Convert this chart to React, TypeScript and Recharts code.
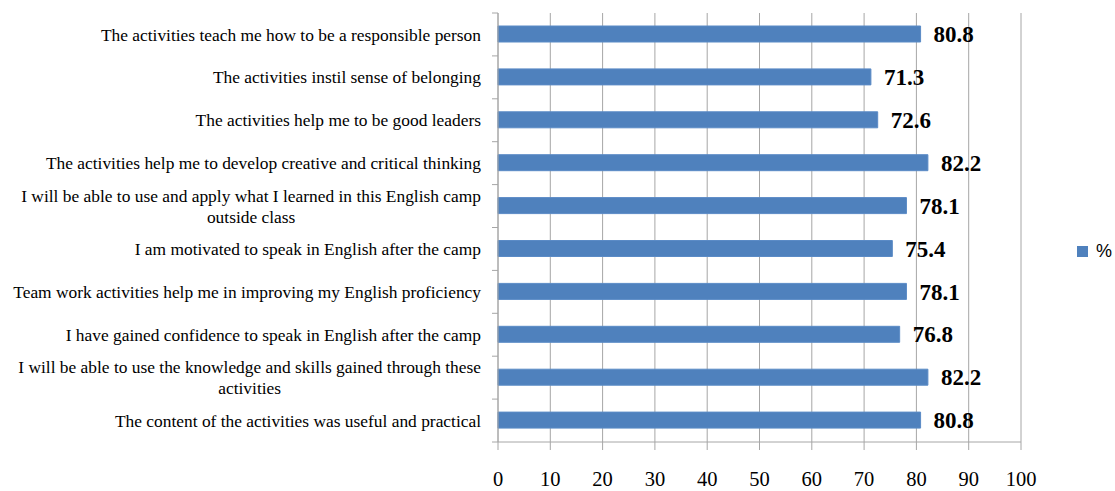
import { BarChart, Bar, XAxis, YAxis, CartesianGrid, LabelList, Legend } from 'recharts'

// statements, top to bottom as in the figure ("\n" marks the manual line break)
const statements = [
  'The activities teach me how to be a responsible person',
  'The activities instil sense of belonging',
  'The activities help me to be good leaders',
  'The activities help me to develop creative and critical thinking',
  'I will be able to use and apply what I learned in this English camp\noutside class',
  'I am motivated to speak in English after the camp',
  'Team work activities help me in improving my English proficiency',
  'I have gained confidence to speak in English after the camp',
  'I will be able to use the knowledge and skills gained through these\nactivities',
  'The content of the activities was useful and practical',
]
const percents = [80.8, 71.3, 72.6, 82.2, 78.1, 75.4, 78.1, 76.8, 82.2, 80.8]
const xTicks = [0, 10, 20, 30, 40, 50, 60, 70, 80, 90, 100]

const data = statements.map((s, i) => ({ statement: s, pct: percents[i] }))

const SERIF = '"Liberation Serif", "Times New Roman", serif'
const LABEL_SIZE = 17.4
const BAR_COLOR = '#4f81bd'
const GRID = '#a6a6a6'

let ctx: CanvasRenderingContext2D | null = null
function textWidth(t: string) {
  if (!ctx) ctx = document.createElement('canvas').getContext('2d')
  if (!ctx) return t.length * 7.5
  ctx.font = `${LABEL_SIZE}px ${SERIF}`
  return ctx.measureText(t).width
}

// eslint-disable-next-line @typescript-eslint/no-explicit-any
function StatementTick(props: any) {
  const { x, y, payload, index } = props
  const lines: string[] = String(payload.value).split('\n')
  const half = payload.offset ?? 0
  const axisX = x + 17
  const first = textWidth(lines[0])
  return (
    <g>
      <line x1={axisX - 6} x2={axisX} y1={y - half} y2={y - half} stroke={GRID} />
      {index === statements.length - 1 && (
        <line x1={axisX - 6} x2={axisX} y1={y + half} y2={y + half} stroke={GRID} />
      )}
      {lines.map((l, i) => (
        <text
          key={i}
          x={i === 0 ? x : x - first / 2}
          y={y + (i - (lines.length - 1) / 2) * 21}
          dy="0.35em"
          textAnchor={i === 0 ? 'end' : 'middle'}
          fontFamily={SERIF}
          fontSize={LABEL_SIZE}
          fill="#000"
        >
          {l}
        </text>
      ))}
    </g>
  )
}

function LegendBox() {
  return (
    <div style={{ display: 'flex', alignItems: 'center', fontFamily: '"Liberation Sans", Arial, sans-serif', fontSize: 18, color: '#000' }}>
      <span style={{ display: 'inline-block', width: 11, height: 11, background: BAR_COLOR, marginRight: 8 }} />
      <span>%</span>
    </div>
  )
}

export default function App() {
  return (
    <div style={{ position: 'absolute', left: 0, top: 0, background: '#fff' }}>
      <BarChart
        width={1115}
        height={491}
        data={data}
        layout="vertical"
        margin={{ top: 13, right: 94, bottom: 9, left: 0 }}
        barCategoryGap={0}
      >
        <CartesianGrid horizontal={false} stroke={GRID} />
        <XAxis
          type="number"
          domain={[0, 100]}
          ticks={xTicks}
          interval={0}
          height={40}
          stroke={GRID}
          tickSize={8}
          tickMargin={21}
          tick={{ fill: '#000', fontSize: 20.5, fontFamily: SERIF }}
        />
        <YAxis
          type="category"
          dataKey="statement"
          width={498}
          interval={0}
          stroke={GRID}
          tickLine={false}
          tickSize={6}
          tickMargin={11}
          tick={<StatementTick />}
        />
        <Legend
          layout="vertical"
          align="center"
          verticalAlign="middle"
          wrapperStyle={{ left: 1077, top: 241, width: 'auto', height: 'auto' }}
          content={<LegendBox />}
        />
        <Bar dataKey="pct" name="%" fill={BAR_COLOR} stroke="#5b8bc6" barSize={16} isAnimationActive={false}>
          <LabelList
            dataKey="pct"
            position="right"
            offset={13}
            formatter={(v: unknown) => Number(v).toFixed(1)}
            style={{ fill: '#000', fontSize: 23, fontWeight: 'bold', fontFamily: SERIF }}
          />
        </Bar>
      </BarChart>
    </div>
  )
}
